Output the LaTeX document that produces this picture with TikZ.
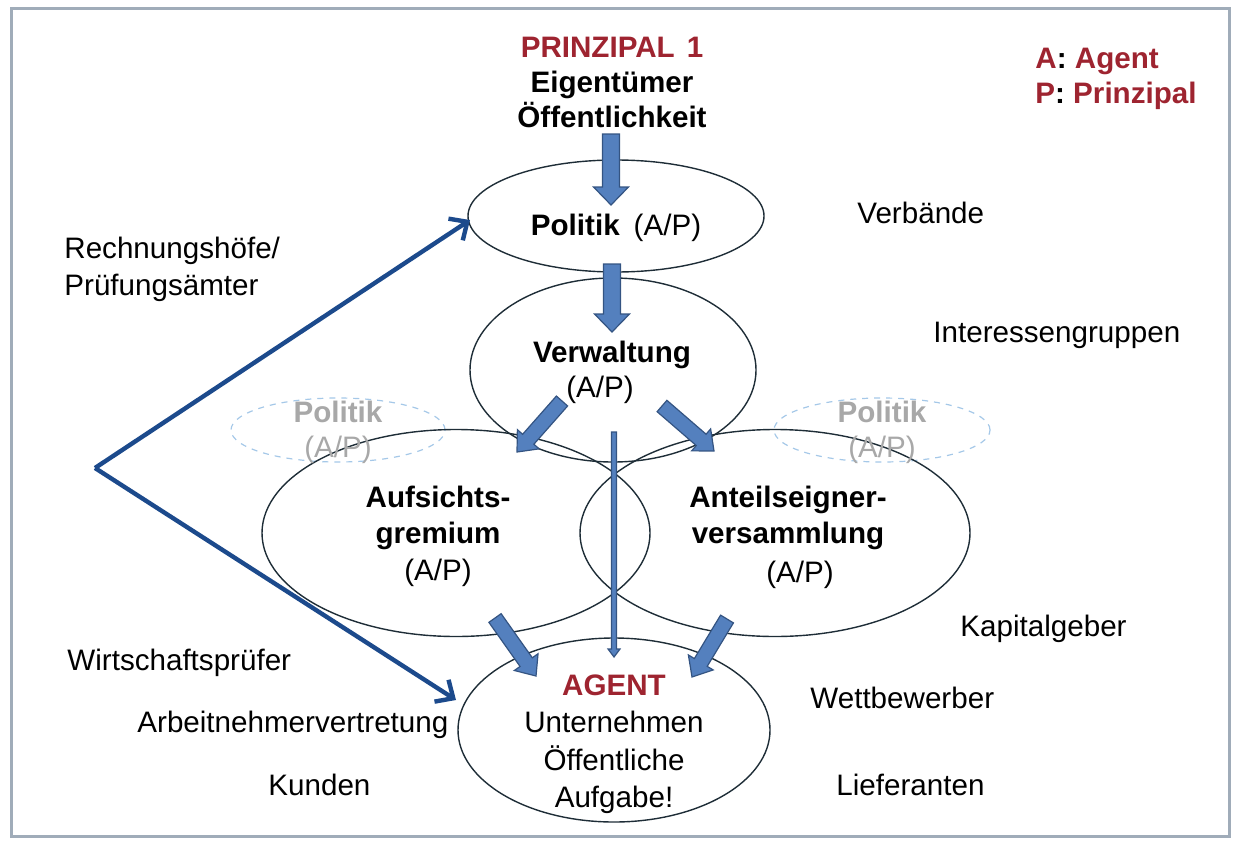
\documentclass[tikz,border=0pt]{standalone}
\usepackage{fontspec}
\setmainfont{Liberation Sans}
\usetikzlibrary{shapes.geometric,arrows.meta,calc}
\definecolor{pred}{RGB}{158,36,48}
\definecolor{bfill}{RGB}{84,128,190}
\definecolor{bline}{RGB}{52,84,130}
\definecolor{lblue}{RGB}{28,74,140}
\definecolor{ellc}{RGB}{30,45,55}
\definecolor{ghostc}{RGB}{165,200,232}
\definecolor{ghostt}{RGB}{168,168,168}
\definecolor{framec}{RGB}{160,172,185}
\newcommand\BlkArrow[5]{%
  \draw[barrow] ($(#1)!#3!90:(#2)$) -- ($($(#2)!#5!(#1)$)!#3!-90:(#1)$)
    -- ($($(#2)!#5!(#1)$)!#4!-90:(#1)$) -- (#2)
    -- ($($(#2)!#5!(#1)$)!#4!90:(#1)$) -- ($($(#2)!#5!(#1)$)!#3!90:(#1)$)
    -- ($(#1)!#3!-90:(#2)$) -- cycle;}
\tikzset{
  txt/.style={font=\fontsize{14.8pt}{17pt}\selectfont, inner sep=0pt, text height=10.6pt, text depth=0pt},
  btxt/.style={txt, font=\fontsize{14.8pt}{17pt}\selectfont\bfseries},
  ell/.style={ellipse, draw=ellc, line width=0.7pt, inner sep=0pt},
  ghost/.style={ellipse, draw=ghostc, dashed, line width=0.6pt, inner sep=0pt},
  barrow/.style={fill=bfill, draw=bline, line width=0.6pt, line join=miter},
  bline/.style={draw=lblue, line width=2.2pt, -{Straight Barb[length=7pt,width=13pt]}},
}
\begin{document}
\begin{tikzpicture}[x=0.5pt,y=-0.5pt]
\useasboundingbox (0,0) rectangle (1234,840);
\draw[framec, line width=1.5pt] (11,9) rectangle (1229,836);

% ellipses
\node[ghost, minimum width=107pt, minimum height=32pt] (ghostL) at (338,430) {};
\node[ghost, minimum width=108pt, minimum height=32pt] (ghostR) at (882,430) {};
\node[ell, minimum width=148pt, minimum height=56pt] (politik) at (616,216) {};
\node[ell, minimum width=143pt, minimum height=92pt] (verw) at (613,370) {};
\node[ell, minimum width=194pt, minimum height=103.5pt] (aufs) at (456,533) {};
\node[ell, minimum width=195pt, minimum height=103.5pt] (anteil) at (775,533) {};
\node[ell, minimum width=156pt, minimum height=92pt] (agent) at (614,730) {};

% top texts
\node[btxt, text=pred] (p1) at (612,47) {PRINZIPAL\hspace{6pt}1};
\node[btxt] (eig) at (612,82) {Eigentümer};
\node[btxt] (oef) at (612,117) {Öffentlichkeit};
\node[btxt, text=pred, anchor=west] (legA) at (1035,58) {A\textcolor{black}{:} Agent};
\node[btxt, text=pred, anchor=west] (legP) at (1035,93) {P\textcolor{black}{:} Prinzipal};

% ellipse texts
\node[txt] (tpol) at (616,225) {\textbf{Politik}\hspace{7pt}(A/P)};
\node[btxt] (tverw) at (612,352) {Verwaltung};
\node[txt] (tverw2) at (600,387) {(A/P)};
\node[btxt, text=ghostt] (gl1) at (338,412) {Politik};
\node[txt, text=ghostt] (gl2) at (338,447) {(A/P)};
\node[btxt, text=ghostt] (gr1) at (882,412) {Politik};
\node[txt, text=ghostt] (gr2) at (882,447) {(A/P)};
\node[btxt] (ta1) at (438,497) {Aufsichts-};
\node[btxt] (ta2) at (438,533) {gremium};
\node[txt] (ta3) at (438,570) {(A/P)};
\node[btxt] (tb1) at (788,497) {Anteilseigner-};
\node[btxt] (tb2) at (788,533) {versammlung};
\node[txt] (tb3) at (800,572) {(A/P)};
\node[btxt, text=pred] (tag1) at (614,685) {AGENT};
\node[txt] (tag2) at (614,722) {Unternehmen};
\node[txt] (tag3) at (614,760) {Öffentliche};
\node[txt] (tag4) at (614,797) {Aufgabe!};

% side texts
\node[txt, anchor=west] (s1) at (64,248) {Rechnungshöfe/};
\node[txt, anchor=west] (s2) at (64,285) {Prüfungsämter};
\node[txt, anchor=west] (s3) at (67,660) {Wirtschaftsprüfer};
\node[txt, anchor=west] (s4) at (137,722) {Arbeitnehmervertretung};
\node[txt, anchor=west] (s5) at (268,785) {Kunden};
\node[txt, anchor=west] (r1) at (857,213) {Verbände};
\node[txt, anchor=west] (r2) at (933,332) {Interessengruppen};
\node[txt, anchor=west] (r3) at (960,626) {Kapitalgeber};
\node[txt, anchor=west] (r4) at (810,698) {Wettbewerber};
\node[txt, anchor=west] (r5) at (836,785) {Lieferanten};

% block arrows
\coordinate (a1s) at (611,134); \coordinate (a1e) at (611,205);
\coordinate (a2s) at (612,264); \coordinate (a2e) at (612,332);
\coordinate (a3s) at (562,401); \coordinate (a3e) at (517,452);
\coordinate (a4s) at (662,406); \coordinate (a4e) at (714,451);
\coordinate (a5s) at (495,618); \coordinate (a5e) at (536,676);
\coordinate (a6s) at (727,619); \coordinate (a6e) at (692,677);
\coordinate (a7s) at (614,432); \coordinate (a7e) at (614,657);
\BlkArrow{a1s}{a1e}{4.25pt}{8.75pt}{9pt}
\BlkArrow{a2s}{a2e}{4.25pt}{8.75pt}{9pt}
\BlkArrow{a3s}{a3e}{3.75pt}{7.25pt}{8.5pt}
\BlkArrow{a4s}{a4e}{3.75pt}{7.25pt}{8.5pt}
\BlkArrow{a5s}{a5e}{3.75pt}{7.25pt}{8.5pt}
\BlkArrow{a6s}{a6e}{3.75pt}{7.25pt}{8.5pt}
\BlkArrow{a7s}{a7e}{1.25pt}{3pt}{4pt}

% blue lines
\coordinate (hub) at (95,468);
\coordinate (tipP) at (470,220);
\coordinate (tipA) at (456,700);
\draw[bline] (hub) -- (tipP);
\draw[bline] (hub) -- (tipA);
\end{tikzpicture}
\end{document}
